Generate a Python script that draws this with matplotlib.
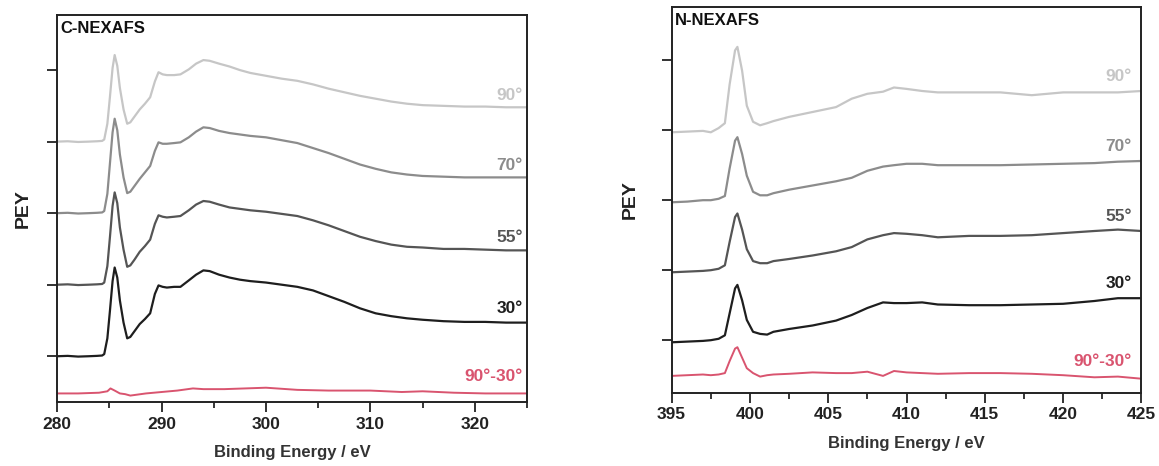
import matplotlib.pyplot as plt
from matplotlib.ticker import MultipleLocator

plt.rcParams['font.family'] = ['Liberation Sans', 'DejaVu Sans']
plt.rcParams['font.weight'] = 'bold'
plt.rcParams['axes.labelweight'] = 'bold'

# ---- C K-edge, values (offset units: 1 = one y tick) ----
c_ev = [280, 281, 282, 283, 283.8, 284.3, 284.5, 284.8, 285.05, 285.3,
        285.5, 285.75, 286.0, 286.35, 286.7, 287.0, 287.4, 287.9, 288.4, 288.9,
        289.35, 289.7, 290.1, 290.5, 291.2, 291.8, 292.6, 293.3, 294.0, 294.6,
        295.5, 296.5, 297.5, 298.5, 300, 301.5, 303, 304.5, 306, 307.5,
        309, 310.5, 312, 313.5, 315, 317, 319, 321, 323, 325]
c_30 = [0.0, 0.005, -0.005, 0.0, 0.005, 0.01, 0.03, 0.25, 0.64, 1.05,
        1.24, 1.1, 0.78, 0.47, 0.25, 0.27, 0.35, 0.45, 0.52, 0.6,
        0.87, 0.99, 0.97, 0.96, 0.97, 0.97, 1.06, 1.14, 1.2, 1.19,
        1.14, 1.1, 1.07, 1.05, 1.03, 1.0, 0.97, 0.92, 0.84, 0.76,
        0.67, 0.6, 0.56, 0.53, 0.51, 0.49, 0.48, 0.48, 0.47, 0.47]
c_55 = [1.0, 1.005, 0.995, 1.0, 1.005, 1.01, 1.03, 1.26, 1.67, 2.1,
        2.29, 2.14, 1.8, 1.49, 1.25, 1.27, 1.35, 1.46, 1.54, 1.63,
        1.85, 1.97, 1.95, 1.94, 1.95, 1.96, 2.04, 2.12, 2.17, 2.16,
        2.12, 2.08, 2.06, 2.04, 2.02, 1.99, 1.96, 1.9, 1.83, 1.75,
        1.67, 1.61, 1.56, 1.53, 1.52, 1.5, 1.5, 1.49, 1.48, 1.48]
c_70 = [2.0, 2.005, 1.995, 2.0, 2.005, 2.01, 2.03, 2.27, 2.7, 3.13,
        3.32, 3.16, 2.82, 2.5, 2.28, 2.3, 2.38, 2.48, 2.57, 2.66,
        2.87, 2.99, 2.97, 2.97, 2.98, 2.99, 3.06, 3.14, 3.2, 3.19,
        3.15, 3.12, 3.1, 3.08, 3.06, 3.02, 2.98, 2.91, 2.84, 2.76,
        2.68, 2.62, 2.57, 2.54, 2.52, 2.51, 2.5, 2.5, 2.5, 2.5]
c_90 = [3.0, 3.005, 2.995, 3.0, 3.005, 3.01, 3.03, 3.25, 3.63, 4.03,
        4.21, 4.06, 3.75, 3.45, 3.25, 3.27, 3.35, 3.45, 3.53, 3.62,
        3.84, 3.97, 3.94, 3.93, 3.93, 3.94, 4.01, 4.09, 4.14, 4.13,
        4.09, 4.05, 4.0, 3.96, 3.92, 3.88, 3.85, 3.8, 3.74, 3.69,
        3.64, 3.6, 3.56, 3.53, 3.51, 3.5, 3.49, 3.49, 3.48, 3.48]
c_diff_ev = [280, 282, 284, 284.8, 285.1, 285.5, 286, 286.5, 287, 287.5, 288.5, 290,
             291.5, 293, 294, 296, 298, 300, 301, 303, 306, 310, 313, 315, 318, 321, 325]
c_diff = [-0.52, -0.52, -0.51, -0.49, -0.45, -0.48, -0.52, -0.53, -0.55, -0.54, -0.52, -0.5,
          -0.48, -0.45, -0.46, -0.46, -0.45, -0.44, -0.45, -0.47, -0.48, -0.48, -0.5, -0.49,
          -0.51, -0.52, -0.52]

# ---- N K-edge ----
n_ev = [395, 396, 397, 397.5, 398, 398.4, 398.7, 399.05, 399.2, 399.5,
        399.8, 400.2, 400.65, 401.1, 401.5, 402.5, 404, 405.5, 406.5, 407.5,
        408.5, 409.2, 410, 411, 412, 414, 416, 418, 420, 422,
        423.5, 425]
n_30 = [-0.03, -0.02, -0.01, 0.0, 0.02, 0.07, 0.38, 0.74, 0.79, 0.57,
        0.29, 0.12, 0.09, 0.08, 0.12, 0.16, 0.21, 0.28, 0.36, 0.46,
        0.54, 0.53, 0.53, 0.54, 0.51, 0.5, 0.5, 0.51, 0.52, 0.56,
        0.6, 0.6]
n_55 = [0.97, 0.98, 0.99, 1.0, 1.02, 1.07, 1.4, 1.76, 1.81, 1.58,
        1.3, 1.13, 1.1, 1.1, 1.13, 1.16, 1.21, 1.27, 1.33, 1.44,
        1.5, 1.53, 1.52, 1.5, 1.47, 1.49, 1.49, 1.5, 1.53, 1.56,
        1.58, 1.56]
n_70 = [1.97, 1.98, 2.0, 2.0, 2.02, 2.06, 2.45, 2.85, 2.9, 2.66,
        2.35, 2.12, 2.07, 2.07, 2.1, 2.15, 2.21, 2.27, 2.32, 2.42,
        2.48, 2.5, 2.52, 2.52, 2.5, 2.5, 2.5, 2.51, 2.52, 2.53,
        2.55, 2.56]
n_90 = [2.97, 2.98, 2.99, 2.97, 3.03, 3.1, 3.65, 4.14, 4.19, 3.85,
        3.35, 3.12, 3.07, 3.1, 3.13, 3.19, 3.26, 3.33, 3.45, 3.52,
        3.55, 3.61, 3.59, 3.56, 3.54, 3.54, 3.54, 3.5, 3.54, 3.54,
        3.54, 3.56]
n_diff = [-0.51, -0.5, -0.49, -0.5, -0.49, -0.47, -0.3, -0.12, -0.1, -0.25,
          -0.4, -0.47, -0.52, -0.5, -0.49, -0.48, -0.46, -0.47, -0.47, -0.45,
          -0.51, -0.44, -0.46, -0.47, -0.48, -0.47, -0.47, -0.48, -0.5, -0.53,
          -0.52, -0.55]

angle_labels = ['90°', '70°', '55°', '30°', '90°-30°']
colors = ['#c6c6c6', '#8c8c8c', '#555555', '#1e1e1e', '#d9546f']
c_label_y = [3.65, 2.67, 1.66, 0.67, -0.29]
n_label_y = [3.76, 2.76, 1.77, 0.81, -0.31]

fig = plt.figure(figsize=(11.59, 4.66), dpi=100)
ax1 = fig.add_axes([0.0494, 0.1373, 0.4053, 0.8305])
ax2 = fig.add_axes([0.5795, 0.1573, 0.4053, 0.8277])


def style_axis(ax, xlim, ylim, major, minor, title, ylab_pad):
    ax.set_xlim(*xlim)
    ax.set_ylim(*ylim)
    ax.xaxis.set_major_locator(MultipleLocator(major))
    ax.xaxis.set_minor_locator(MultipleLocator(minor))
    ax.set_yticks([0, 1, 2, 3, 4])
    ax.set_yticklabels([])
    ax.tick_params(axis='both', which='major', direction='out', length=7, width=1.3,
                   labelsize=12.5, colors='#222222')
    ax.tick_params(axis='x', which='minor', direction='out', length=4, width=1.1)
    for sp in ax.spines.values():
        sp.set_linewidth(1.4)
        sp.set_color('#222222')
    ax.set_xlabel('Binding Energy / eV', fontsize=12, color='#333333', labelpad=10)
    ax.set_ylabel('PEY', fontsize=14, color='#222222', labelpad=ylab_pad)
    ax.text(0.006, 0.985, title, transform=ax.transAxes, ha='left', va='top',
            fontsize=12, color='#111111')


# =========================
# C-NEXAFS
# =========================
ax1.plot(c_ev, c_90, color=colors[0], lw=1.6)
ax1.plot(c_ev, c_70, color=colors[1], lw=1.6)
ax1.plot(c_ev, c_55, color=colors[2], lw=1.6)
ax1.plot(c_ev, c_30, color=colors[3], lw=1.6)
ax1.plot(c_diff_ev, c_diff, color=colors[4], lw=1.4)
style_axis(ax1, (280, 325), (-0.64, 4.77), 10, 5, 'C-NEXAFS', 8)
for lab, col, y in zip(angle_labels, colors, c_label_y):
    ax1.text(324.6, y, lab, color=col, ha='right', va='center', fontsize=12.5)

# =========================
# N-NEXAFS
# =========================
ax2.plot(n_ev, n_90, color=colors[0], lw=1.6)
ax2.plot(n_ev, n_70, color=colors[1], lw=1.6)
ax2.plot(n_ev, n_55, color=colors[2], lw=1.6)
ax2.plot(n_ev, n_30, color=colors[3], lw=1.6)
ax2.plot(n_ev, n_diff, color=colors[4], lw=1.4)
style_axis(ax2, (395, 425), (-0.75, 4.76), 5, 2.5, 'N-NEXAFS', 13)
for lab, col, y in zip(angle_labels, colors, n_label_y):
    ax2.text(424.4, y, lab, color=col, ha='right', va='center', fontsize=12.5)

plt.savefig('out.png', dpi=100)
plt.close()
